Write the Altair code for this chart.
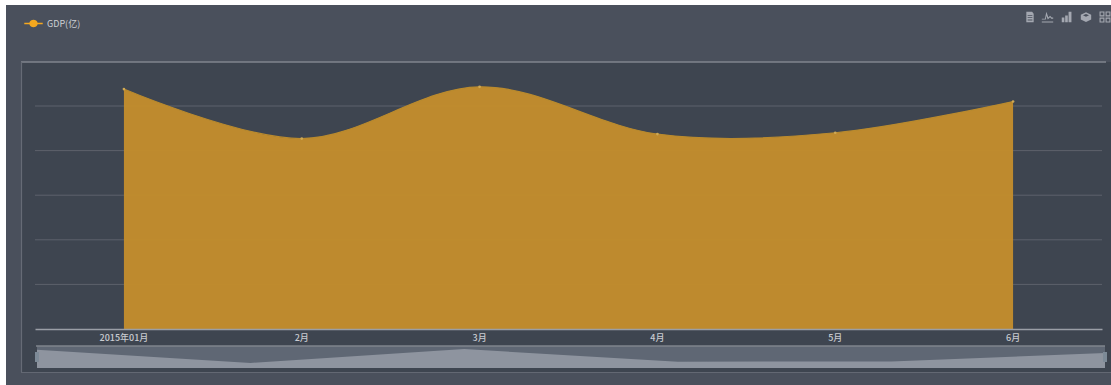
import altair as alt
import pandas as pd

months = ["2015年01月", "2月", "3月", "4月", "5月", "6月"]
gdp = [538, 427, 543, 437, 440, 510]
series_name = "GDP(亿)"
grid_values = [100, 200, 300, 400, 500]
strip_floor = 385

FONT = "Noto Sans CJK SC"
SERIES_COLOR = "#f5a81f"
INNER_BG = "#3e4550"

df = pd.DataFrame({"month": months, "gdp": gdp, "series": series_name, "floor": strip_floor})
grid_df = pd.DataFrame({"v": grid_values})

# Main plot scales: a band axis whose centres carry the months
x_main = alt.X(
    "month:N", sort=months, title=None,
    scale=alt.Scale(type="band", domain=months, range=[35, 1102], paddingInner=0, paddingOuter=0),
    axis=None,
)
y_main = alt.Y(
    "gdp:Q", title=None, axis=None,
    scale=alt.Scale(domain=[0, 600], range=[329, 61.4], nice=False, zero=False),
)

# Overview strip scales
x_strip = alt.X("month:N", sort=months, title=None, axis=None,
                scale=alt.Scale(type="point", domain=months, range=[37, 1105], padding=0))
y_strip = alt.Y("gdp:Q", title=None, axis=None,
                scale=alt.Scale(domain=[385, 560], range=[368, 347], nice=False, zero=False))


def box(x0, x1, y0, y1, fill, **kw):
    """A fixed panel rectangle in pixel coordinates."""
    return alt.Chart(df.head(1)).mark_rect(color=fill, **kw).encode(
        x=alt.value(x0), x2=alt.value(x1), y=alt.value(y0), y2=alt.value(y1)
    )


def hline(x0, x1, y, color, width=1.0):
    return alt.Chart(df.head(1)).mark_rule(color=color, strokeWidth=width).encode(
        x=alt.value(x0), x2=alt.value(x1), y=alt.value(y)
    )


def vline(x, y0, y1, color, width=1.0):
    return alt.Chart(df.head(1)).mark_rule(color=color, strokeWidth=width).encode(
        x=alt.value(x), y=alt.value(y0), y2=alt.value(y1)
    )


def icon(x, y, path, size=130):
    return alt.Chart(df.head(1)).mark_point(
        shape=path, filled=True, color="#a9adb5", opacity=0.95, size=size
    ).encode(x=alt.value(x), y=alt.value(y))


panel = box(6, 1111, 5, 385, "#4a505c")
inner = box(22, 1111, 62, 372, INNER_BG)
frame_top = hline(21, 1106, 62, "#80858e", 1.5)
frame_left = vline(21.5, 62, 372, "#666b76", 1.2)
frame_bottom = hline(21, 1111, 372.5, "#636873", 1.2)

grid = alt.Chart(grid_df).mark_rule(color="#5d626c", strokeWidth=1).encode(
    x=alt.value(35), x2=alt.value(1102),
    y=alt.Y("v:Q", title=None, axis=None,
            scale=alt.Scale(domain=[0, 600], range=[329, 61.4], nice=False, zero=False)),
)

legend_symbol = (
    "M-1,-0.07H-0.45A0.47,0.47,0,0,1,0.45,-0.07H1V0.07H0.45"
    "A0.47,0.47,0,0,1,-0.45,0.07H-1Z"
)

# An opaque underlay keeps the grid from showing through the translucent series fill
area_base = alt.Chart(df).mark_area(interpolate="cardinal", color=INNER_BG, opacity=0.85).encode(x=x_main, y=y_main)
area = alt.Chart(df).mark_area(interpolate="cardinal", opacity=0.7).encode(
    x=x_main,
    y=y_main,
    color=alt.Color(
        "series:N", title=None,
        scale=alt.Scale(domain=[series_name], range=[SERIES_COLOR]),
        legend=alt.Legend(
            orient="none", legendX=24, legendY=14, symbolType=legend_symbol, symbolSize=340,
            symbolOpacity=1, symbolStrokeWidth=0, labelColor="#ced0d5", labelFont=FONT,
            labelFontSize=9, labelOffset=4, title=None,
        ),
    ),
)
top_line = alt.Chart(df).mark_line(
    interpolate="cardinal", color="#b98a2e", strokeWidth=1.2
).encode(x=x_main, y=y_main)
vertices = alt.Chart(df).mark_point(
    filled=True, color="#cfa955", size=7, opacity=1
).encode(x=x_main, y=y_main)

x_axis = alt.Chart(df).mark_text(opacity=0).encode(
    x=alt.X(
        "month:N", sort=months, title=None,
        scale=alt.Scale(type="band", domain=months, range=[35, 1102], paddingInner=0, paddingOuter=0),
        axis=alt.Axis(
            orient="bottom", offset=-56, ticks=False, labelAngle=0, labelPadding=4,
            domainColor="#9a9ea6", domainWidth=1.5, labelColor="#c9cbd0",
            labelFont=FONT, labelFontSize=9, labelFontWeight=500, grid=False, zindex=2,
        ),
    ),
    text=alt.value(" "),
)

strip_bg = box(37, 1105, 346, 368, "#5f6774")
strip_area = alt.Chart(df).mark_area(color="#8e949f", opacity=1).encode(
    x=x_strip, y=y_strip, y2=alt.Y2("floor:Q")
)
strip_top = hline(36, 1105, 346, "#7f848d", 1.5)
handle_l = box(35, 39, 352, 362, "#7d8a97")
handle_r = box(1103, 1107, 352, 362, "#7d8a97")

# Toolbox glyphs: data view, line, bar, stack, tiled
doc = "M-0.7,-1H0.4L0.7,-0.6V1H-0.7ZM-0.45,-0.4V-0.25H0.45V-0.4ZM-0.45,0.05V0.2H0.45V0.05ZM-0.45,0.5V0.65H0.45V0.5Z"
line_icon = "M-1,0.3L-0.45,0.3L-0.2,-0.9L0.15,0.1L0.45,-0.2L0.75,0.1L1,0.1V0.3L0.65,0.3L0.45,0.05L0.05,0.45L-0.2,-0.2L-0.3,0.45L-1,0.45ZM-1,0.8H1V0.95H-1Z"
bar_icon = "M-1,0.1H-0.5V1H-1ZM-0.35,-0.3H0.15V1H-0.35ZM0.3,-1H0.85V1H0.3Z"
stack_icon = "M0,-0.85L0.95,-0.4V0.45L0,0.9L-0.95,0.45V-0.4ZM0,-0.55L-0.55,-0.3L0,-0.05L0.55,-0.3Z"
tile_icon = "M-1,-1H-0.1V-0.1H-1ZM-0.8,-0.8V-0.3H-0.3V-0.8ZM0.1,-1H1V-0.1H0.1ZM0.3,-0.8V-0.3H0.8V-0.8ZM-1,0.1H-0.1V1H-1ZM-0.8,0.3V0.8H-0.3V0.3ZM0.1,0.1H1V1H0.1ZM0.3,0.3V0.8H0.8V0.3Z"
icons = [
    icon(1030, 17, doc, 110), icon(1047.5, 17, line_icon, 130), icon(1067, 17, bar_icon, 110),
    icon(1086, 17, stack_icon, 120), icon(1105, 17, tile_icon, 120),
]

chart = alt.layer(
    panel, inner, frame_top, frame_left, frame_bottom, grid,
    area_base, area, top_line, vertices, x_axis,
    strip_bg, strip_area, strip_top, handle_l, handle_r,
    *icons,
).resolve_scale(x="independent", y="independent", color="independent").properties(
    width=1111, height=385, padding=0, autosize="none", background="#ffffff"
).configure_view(stroke=None)

chart.save("out.html", embed_options={"renderer": "svg", "actions": False})
